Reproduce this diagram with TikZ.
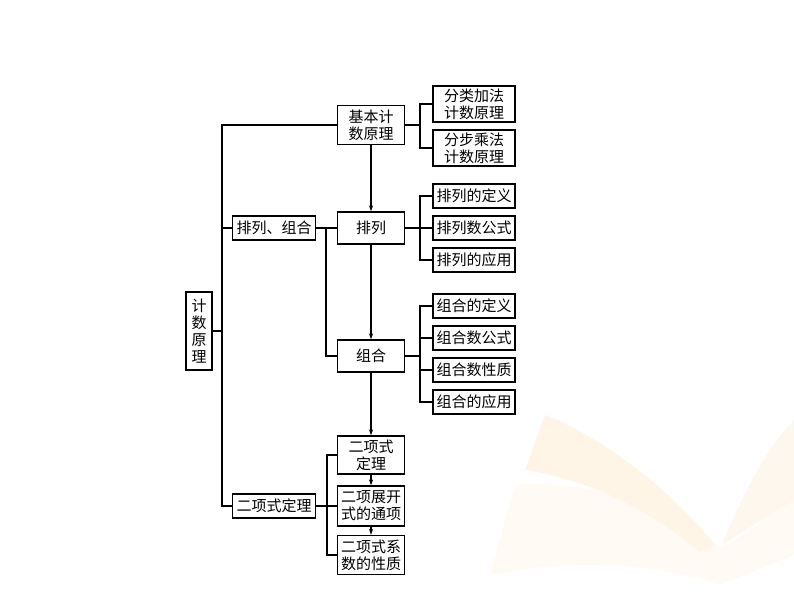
\documentclass[tikz,border=0pt]{standalone}
\usepackage{fontspec}
\setmainfont{Noto Sans CJK SC}
\usetikzlibrary{arrows.meta}
\begin{document}
\begin{tikzpicture}[x=1pt,y=-1pt,
  bx/.style={draw,line width=1.1pt,inner sep=0pt,font=\fontsize{15}{17}\selectfont,align=center},
  ln/.style={line width=1.1pt},
  ar/.style={line width=1.1pt,-{Stealth[length=6pt,width=4pt]}}]
\useasboundingbox (0,0) rectangle (794,596);
% decorative book (faint)
\fill[yellow!6!orange!4] (490,575) .. controls (560,560) and (650,560) .. (720,585) -- (794,555) -- (794,500) .. controls (760,520) and (740,540) .. (720,548) .. controls (660,500) and (580,480) .. (515,485) -- cycle;
\fill[yellow!10!orange!8] (545,415) .. controls (610,440) and (680,500) .. (715,545) -- (700,552) .. controls (650,510) and (590,480) .. (525,470) -- cycle;
\fill[yellow!8!orange!6] (722,545) .. controls (740,500) and (765,450) .. (794,420) -- (794,500) -- cycle;
% nodes
\node[bx,minimum width=26pt,minimum height=78pt] (root) at (199,331) {计\\数\\原\\理};
\node[bx,minimum width=67pt,minimum height=39pt] (jb) at (371,125) {基本计\\数原理};
\node[bx,minimum width=82pt,minimum height=36pt] (fl) at (474,104) {分类加法\\计数原理};
\node[bx,minimum width=82pt,minimum height=36pt] (fb) at (474,148) {分步乘法\\计数原理};
\node[bx,minimum width=83pt,minimum height=24pt] (plzh) at (274,228) {排列、组合};
\node[bx,minimum width=67pt,minimum height=32pt] (pl) at (371,228) {排列};
\node[bx,minimum width=82pt,minimum height=24pt] (p1) at (474,196) {排列的定义};
\node[bx,minimum width=82pt,minimum height=24pt] (p2) at (474,228) {排列数公式};
\node[bx,minimum width=82pt,minimum height=24pt] (p3) at (474,260) {排列的应用};
\node[bx,minimum width=67pt,minimum height=32pt] (zh) at (371,356) {组合};
\node[bx,minimum width=82pt,minimum height=24pt] (z1) at (474,306) {组合的定义};
\node[bx,minimum width=82pt,minimum height=24pt] (z2) at (474,338) {组合数公式};
\node[bx,minimum width=82pt,minimum height=24pt] (z3) at (474,370) {组合数性质};
\node[bx,minimum width=82pt,minimum height=24pt] (z4) at (474,402) {组合的应用};
\node[bx,minimum width=83pt,minimum height=24pt] (ex) at (274,506) {二项式定理};
\node[bx,minimum width=67pt,minimum height=38pt] (e1) at (371,455) {二项式\\定理};
\node[bx,minimum width=67pt,minimum height=40pt] (e2) at (371,506) {二项展开\\式的通项};
\node[bx,minimum width=67pt,minimum height=39pt] (e3) at (371,555) {二项式系\\数的性质};
% left bus
\draw[ln] (root.east) -- (222,331);
\draw[ln] (jb.west) -| (222,125) -- (222,506) -- (ex.west);
\draw[ln] (plzh.west) -- (222,228);
% 排列、组合 bus
\draw[ln] (plzh.east) -- (pl.west);
\draw[ln] (326,228) -- (326,356) -- (zh.west);
% right buses
\draw[ln] (jb.east) -- (420,125);
\draw[ln] (fl.west) -| (420,104) -- (420,148) -- (fb.west);
\draw[ln] (p1.west) -| (420,196) -- (420,260) -- (p3.west);
\draw[ln] (pl.east) -- (p2.west);
\draw[ln] (z1.west) -| (420,306) -- (420,402) -- (z4.west);
\draw[ln] (zh.east) -- (420,356);
\draw[ln] (420,338) -- (z2.west);
\draw[ln] (420,370) -- (z3.west);
% binomial bus
\draw[ln] (e1.west) -| (327,455) -- (327,555) -- (e3.west);
\draw[ln] (ex.east) -- (e2.west);
% arrows
\draw[ar] (jb.south) -- (pl.north);
\draw[ar] (pl.south) -- (zh.north);
\draw[ar] (zh.south) -- (e1.north);
\draw[ar] (e1.south) -- (e2.north);
\draw[ar] (e2.south) -- (e3.north);
\end{tikzpicture}
\end{document}
